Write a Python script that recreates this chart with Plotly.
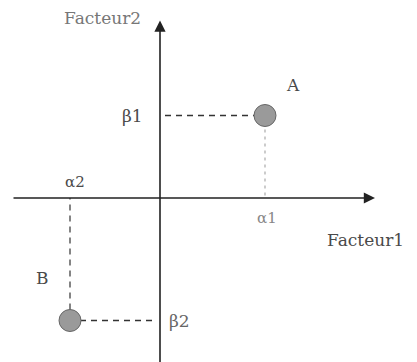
import plotly.graph_objects as go

# Data
point_names = ["A", "B"]
factor1_vals = [2.1, -1.8]    # alpha1, alpha2
factor2_vals = [1.65, -2.45]  # beta1, beta2
alpha_labels = ["α1", "α2"]
beta_labels = ["β1", "β2"]
axis_titles = ["Facteur1", "Facteur2"]

TXT = "#4a4a4a"
FONT = "DejaVu Serif"

fig = go.Figure()

# Projection lines
for i in range(len(point_names)):
    xv, yv = factor1_vals[i], factor2_vals[i]
    # horizontal to factor2 axis
    fig.add_trace(go.Scatter(x=[0.1 if xv > 0 else -0.16, xv], y=[yv, yv], mode="lines",
                             line=dict(color="#333", width=1.3, dash="6px,5px"),
                             hoverinfo="skip", showlegend=False))
    # vertical to factor1 axis
    fig.add_trace(go.Scatter(x=[xv, xv], y=[yv, 0], mode="lines",
                             line=dict(color="#aaa" if yv > 0 else "#333",
                                       width=1.2, dash="3px,4px" if yv > 0 else "6px,5px"),
                             hoverinfo="skip", showlegend=False))

# Points
fig.add_trace(go.Scatter(x=factor1_vals, y=factor2_vals, mode="markers",
                         marker=dict(size=22, color="#9a9a9a",
                                     line=dict(color="#666", width=1)),
                         hoverinfo="skip", showlegend=False))

anns = []
# Axes with arrows
anns.append(dict(x=4.3, y=0, ax=-2.96, ay=0, xref="x", yref="y", axref="x", ayref="y",
                 text="", showarrow=True, arrowhead=2, arrowsize=1.4, arrowwidth=1.6,
                 arrowcolor="#222"))
anns.append(dict(x=0, y=3.55, ax=0, ay=-3.5, xref="x", yref="y", axref="x", ayref="y",
                 text="", showarrow=True, arrowhead=2, arrowsize=1.4, arrowwidth=1.6,
                 arrowcolor="#222"))

# Axis titles
anns.append(dict(x=3.3, y=-0.84, xref="x", yref="y", text=axis_titles[0], showarrow=False,
                 xanchor="left", font=dict(family=FONT, size=17, color=TXT)))
anns.append(dict(x=-0.34, y=3.6, xref="x", yref="y", text=axis_titles[1], showarrow=False,
                 xanchor="right", font=dict(family=FONT, size=17, color="#777")))

# Point names
anns.append(dict(x=factor1_vals[0] + 0.56, y=factor2_vals[0] + 0.61, xref="x", yref="y",
                 text=point_names[0], showarrow=False,
                 font=dict(family=FONT, size=17, color=TXT)))
anns.append(dict(x=factor1_vals[1] - 0.56, y=factor2_vals[1] + 0.85, xref="x", yref="y",
                 text=point_names[1], showarrow=False,
                 font=dict(family=FONT, size=17, color=TXT)))

# Alpha labels
anns.append(dict(x=factor1_vals[0] + 0.04, y=-0.4, xref="x", yref="y", text=alpha_labels[0],
                 showarrow=False, font=dict(family=FONT, size=15, color="#888")))
anns.append(dict(x=factor1_vals[1] + 0.1, y=0.32, xref="x", yref="y", text=alpha_labels[1],
                 showarrow=False, font=dict(family=FONT, size=15, color=TXT)))

# Beta labels
anns.append(dict(x=-0.3, y=factor2_vals[0], xref="x", yref="y", text=beta_labels[0],
                 showarrow=False, xanchor="right", font=dict(family=FONT, size=17, color=TXT)))
anns.append(dict(x=0.14, y=factor2_vals[1], xref="x", yref="y", text=beta_labels[1],
                 showarrow=False, xanchor="left", font=dict(family=FONT, size=17, color="#666")))

fig.update_layout(
    width=417, height=362,
    margin=dict(l=0, r=0, t=0, b=0),
    paper_bgcolor="white", plot_bgcolor="white",
    xaxis=dict(range=[-3.04, 5.3], visible=False, fixedrange=True),
    yaxis=dict(range=[-3.44, 3.8], visible=False, fixedrange=True),
    annotations=anns,
    showlegend=False,
)

fig.write_html("out.html")
